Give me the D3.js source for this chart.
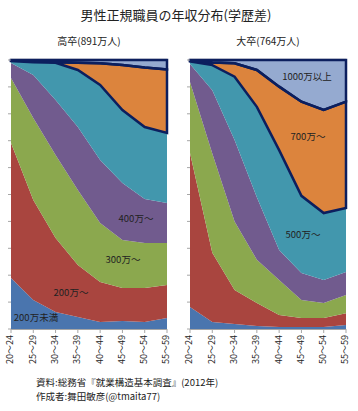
<!DOCTYPE html>
<html>
<head>
<meta charset="utf-8">
<script src="https://cdn.jsdelivr.net/npm/d3@7"></script>
<style>
  body { margin: 0; background: #fff; }
  svg text { font-family: "Noto Sans CJK JP", "Noto Sans", sans-serif; fill: #222; }
</style>
</head>
<body>
<div id="container"><svg></svg></div>
<script>
const W = 358, H = 411;

const ages = ['20～24', '25～29', '30～34', '35～39', '40～44', '45～49', '50～54', '55～59'];
const classes = ['200万未満', '200万～', '300万～', '400万～', '500万～', '700万～', '1000万以上'];
const colors = ['#4a75ae', '#a9453f', '#8ba84e', '#715b8e', '#4297ad', '#dc843d', '#95aad0'];

// 高卒, % of workers per income class (rows follow classes)
const highSchool = [
    [19.0, 10.8, 6.3, 4.5, 2.6, 3.0, 2.6, 4.1],
    [50.1, 37.2, 27.5, 19.3, 14.9, 12.2, 12.6, 12.3],
    [24.2, 30.4, 30.9, 27.9, 21.9, 17.9, 16.8, 15.6],
    [5.6, 16.0, 20.4, 23.4, 23.4, 21.2, 16.3, 14.8],
    [0.7, 4.8, 13.9, 21.2, 27.9, 27.1, 26.8, 26.1],
    [0.2, 0.5, 0.2, 2.7, 8.1, 16.7, 22.1, 23.6],
    [0.2, 0.3, 0.8, 1.0, 1.2, 1.9, 2.8, 3.5]
];
// 大卒
const university = [
    [8.2, 2.6, 1.9, 1.1, 0.7, 0.7, 0.7, 1.5],
    [57.2, 25.7, 12.6, 8.6, 4.5, 3.4, 3.4, 4.4],
    [26.4, 36.9, 25.5, 16.0, 13.0, 6.7, 5.6, 6.7],
    [6.7, 23.6, 30.3, 23.3, 11.2, 10.0, 8.5, 8.6],
    [1.0, 9.3, 23.5, 33.6, 37.1, 28.7, 24.9, 23.8],
    [0.3, 1.0, 5.0, 13.7, 23.6, 35.0, 38.3, 39.5],
    [0.2, 0.9, 1.2, 3.7, 9.9, 15.5, 18.6, 15.5]
];

const PLOT_TOP = 60, PLOT_BOTTOM = 329;

let svg = d3.select('svg').attr('width', W).attr('height', H);

svg.append('text')
    .attr('x', 176).attr('y', 16)
    .attr('text-anchor', 'middle')
    .attr('dominant-baseline', 'middle')
    .style('font-size', '13px')
    .text('男性正規職員の年収分布(学歴差)');

function draw_panel(values, title, left, right, labels) {
    let rows = ages.map((a, i) => {
        let r = {age: a};
        classes.forEach((c, k) => r[c] = values[k][i]);
        return r;
    });
    let series = d3.stack().keys(classes).offset(d3.stackOffsetExpand)(rows);

    let x = d3.scalePoint().domain(ages).range([left, right]);
    let y = d3.scaleLinear().domain([0, 1]).range([PLOT_BOTTOM, PLOT_TOP]);

    let g = svg.append('g');

    g.append('text')
        .attr('x', (left + right) / 2).attr('y', 42)
        .attr('text-anchor', 'middle')
        .attr('dominant-baseline', 'middle')
        .style('font-size', '10px')
        .text(title);

    // light gridline at 100%
    g.append('line')
        .attr('x1', left).attr('x2', right)
        .attr('y1', y(1) - 1).attr('y2', y(1) - 1)
        .attr('stroke', '#d9d9d9');

    let area = d3.area()
        .x(d => x(d.data.age))
        .y0(d => y(d[0]))
        .y1(d => y(d[1]));

    g.selectAll('path.layer')
        .data(series)
        .enter().append('path')
        .attr('class', 'layer')
        .attr('d', area)
        .attr('fill', (d, i) => colors[i]);

    // navy outline around 700万～ and 1000万以上
    g.selectAll('path.outline')
        .data(series.slice(5))
        .enter().append('path')
        .attr('class', 'outline')
        .attr('d', area)
        .attr('fill', 'none')
        .attr('stroke', '#0c1f5e')
        .attr('stroke-width', 2.5)
        .attr('stroke-linejoin', 'miter');

    // y ticks every 10%
    let yTicks = d3.range(0, 11).map(v => v / 10);
    g.selectAll('line.ytick')
        .data(yTicks)
        .enter().append('line')
        .attr('x1', left - 3).attr('x2', left)
        .attr('y1', d => y(d)).attr('y2', d => y(d))
        .attr('stroke', '#a6a6a6');

    // x axis
    g.append('line')
        .attr('x1', left).attr('x2', right)
        .attr('y1', PLOT_BOTTOM + 0.5).attr('y2', PLOT_BOTTOM + 0.5)
        .attr('stroke', '#a6a6a6');
    g.selectAll('line.xtick')
        .data(ages)
        .enter().append('line')
        .attr('x1', d => x(d)).attr('x2', d => x(d))
        .attr('y1', PLOT_BOTTOM).attr('y2', PLOT_BOTTOM + 4)
        .attr('stroke', '#a6a6a6');
    g.selectAll('text.xlab')
        .data(ages)
        .enter().append('text')
        .attr('transform', d => `translate(${x(d)}, ${PLOT_BOTTOM + 6}) rotate(-90)`)
        .attr('text-anchor', 'end')
        .attr('dominant-baseline', 'middle')
        .style('font-size', '9px')
        .text(d => d);

    g.selectAll('text.series')
        .data(labels)
        .enter().append('text')
        .attr('x', d => d[1]).attr('y', d => d[2])
        .attr('text-anchor', 'middle')
        .attr('dominant-baseline', 'middle')
        .style('font-size', '9.5px')
        .text(d => d[0]);
}

draw_panel(highSchool, '高卒(891万人)', 11, 167, [
    ['400万～', 136, 219],
    ['300万～', 123, 260],
    ['200万～', 71, 293],
    ['200万未満', 36, 318]
]);
draw_panel(university, '大卒(764万人)', 190, 346, [
    ['1000万以上', 307, 77],
    ['700万～', 308, 137],
    ['500万～', 303, 235]
]);

svg.append('text')
    .attr('x', 36).attr('y', 383)
    .attr('dominant-baseline', 'middle')
    .style('font-size', '9.5px')
    .text('資料:総務省『就業構造基本調査』(2012年)');
svg.append('text')
    .attr('x', 36).attr('y', 397)
    .attr('dominant-baseline', 'middle')
    .style('font-size', '9.5px')
    .text('作成者:舞田敏彦(@tmaita77)');
</script>
</body>
</html>
